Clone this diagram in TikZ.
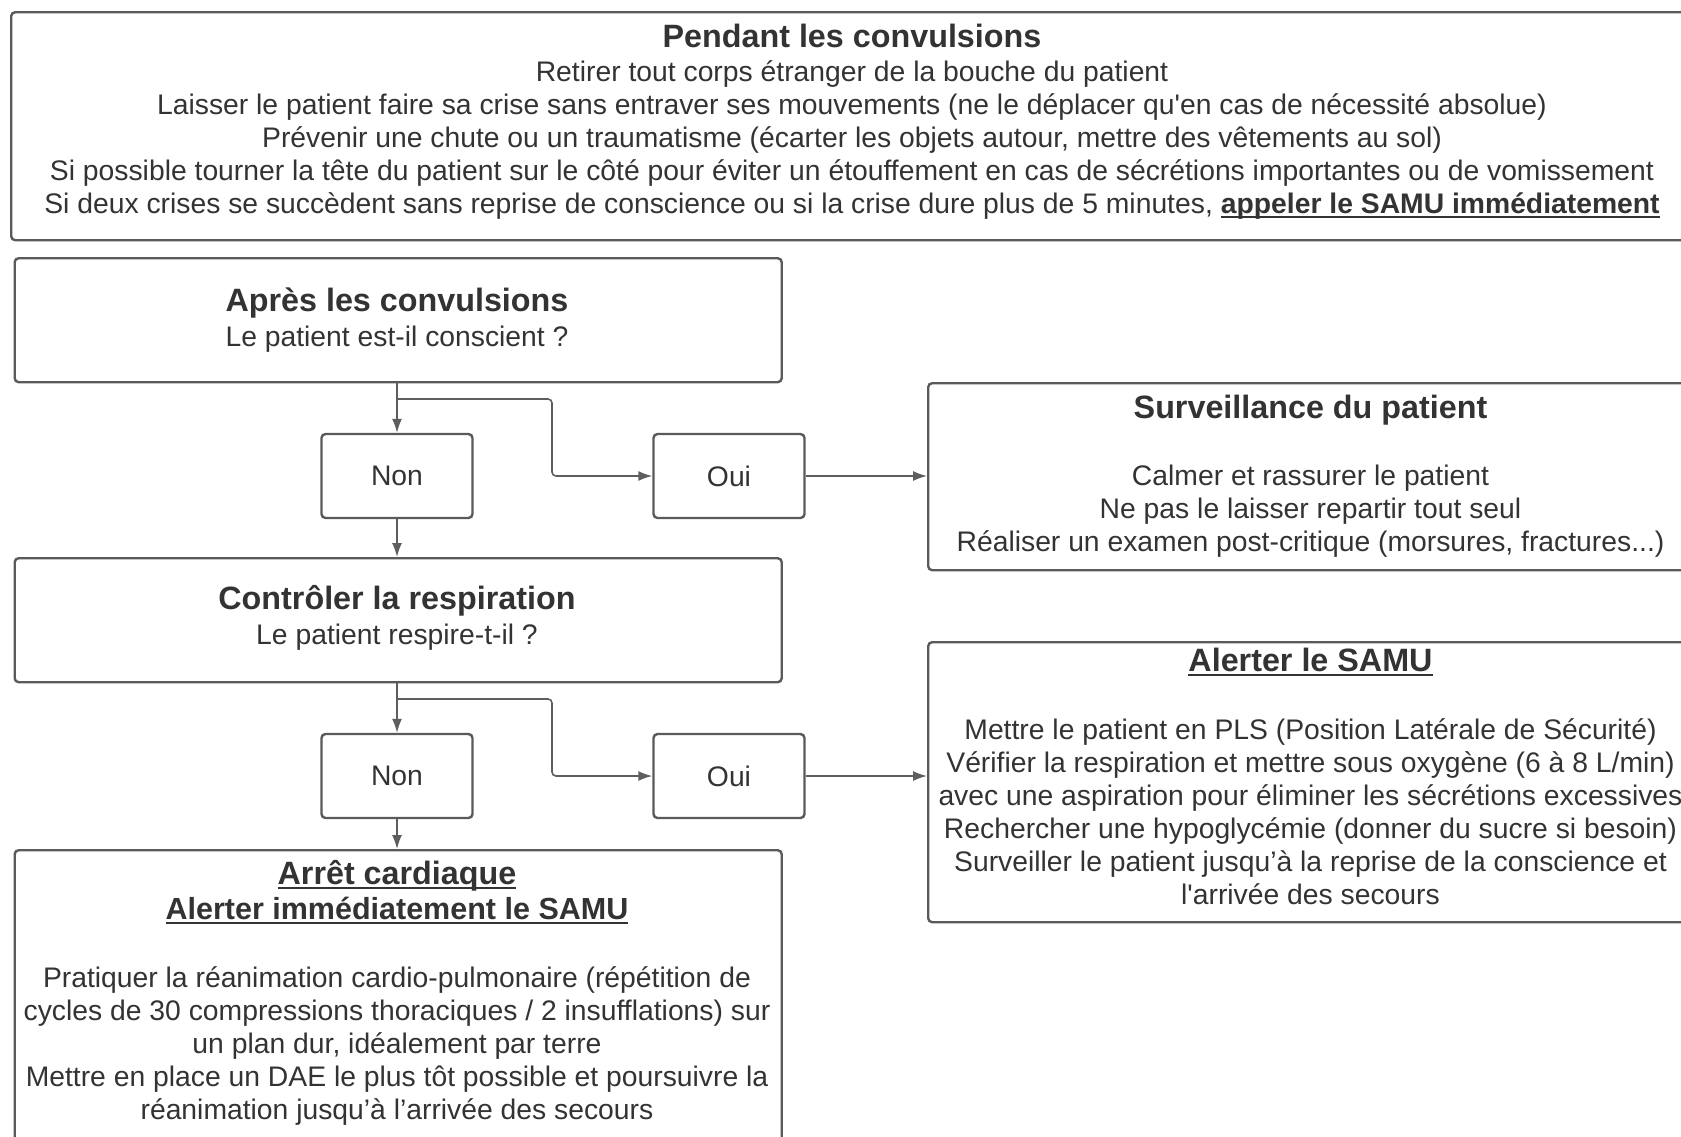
\documentclass[tikz,border=0pt]{standalone}
\usepackage{fontspec}
\setmainfont{Liberation Sans}[Ligatures=TeXOff]
\usetikzlibrary{arrows.meta}
\definecolor{txt}{HTML}{333333}
\definecolor{brd}{HTML}{5A5A5A}
\definecolor{lnk}{HTML}{5E5E5E}
\newcommand\bodyf{\fontsize{28.3}{33}\selectfont}
\newcommand\titlef{\fontsize{32.3}{36}\selectfont\bfseries}
\newcommand\subtitlef{\fontsize{30.5}{36}\selectfont\bfseries}
\newcommand\myul[1]{\leavevmode\setbox0=\hbox{#1}\rlap{\rule[-4.5pt]{\wd0}{2pt}}\box0}
\begin{document}
\begin{tikzpicture}[x=1pt,y=-1pt,
  box/.style={draw=brd, line width=2.4pt, rounded corners=4pt, anchor=north west, inner sep=0pt},
  choice/.style={draw=brd, line width=2.4pt, rounded corners=4pt, minimum width=151pt, minimum height=84pt, inner sep=0pt, text=txt, font=\bodyf},
  bodyline/.style={text=txt, font=\bodyf, anchor=base, inner sep=0pt},
  titleline/.style={text=txt, font=\titlef, anchor=base, inner sep=0pt},
  arr/.style={draw=lnk, line width=1.6pt, -{Latex[length=14pt,width=10pt]}},
  branch/.style={arr, rounded corners=4pt}]
\useasboundingbox (0,0) rectangle (1681,1136);
\fill[white] (0,0) rectangle (1681,1136);
\clip (0,0) rectangle (1681,1136);

% ---------- boxes ----------
\node[box, minimum width=1684pt, minimum height=228pt] (pendant) at (10,11) {};
\node[box, minimum width=767pt, minimum height=124pt] (apres) at (13.5,257) {};
\node[box, minimum width=767pt, minimum height=124pt] (controle) at (13.5,557) {};
\node[box, minimum width=767pt, minimum height=330pt] (arret) at (13.5,849) {};
\node[box, minimum width=767pt, minimum height=187pt] (surv) at (927,382) {};
\node[box, minimum width=767pt, minimum height=280pt] (alerte) at (927,641) {};

\node[choice] (non1) at (397,476) {Non};
\node[choice] (oui1) at (729,476) {Oui};
\node[choice] (non2) at (397,776) {Non};
\node[choice] (oui2) at (729,776) {Oui};

% ---------- texts ----------
\node[titleline] (pendantT) at (852,47) {Pendant les convulsions};
\foreach \t [count=\i] in {
  {Retirer tout corps étranger de la bouche du patient},
  {Laisser le patient faire sa crise sans entraver ses mouvements (ne le déplacer qu'en cas de nécessité absolue)},
  {Prévenir une chute ou un traumatisme (écarter les objets autour, mettre des vêtements au sol)},
  {Si possible tourner la tête du patient sur le côté pour éviter un étouffement en cas de sécrétions importantes ou de vomissement},
  {Si deux crises se succèdent sans reprise de conscience ou si la crise dure plus de 5 minutes, \myul{\bfseries appeler le SAMU immédiatement}}}
  \node[bodyline] (pendantL\i) at (852,{81+33*(\i-1)}) {\t};

\node[titleline] (apresT) at (397,311) {Après les convulsions};
\node[bodyline] (apresL) at (397,346) {Le patient est-il conscient ?};

\node[titleline] (controleT) at (397,609) {Contrôler la respiration};
\node[bodyline] (controleL) at (397,644) {Le patient respire-t-il ?};

\node[titleline] (survT) at (1310.5,418) {Surveillance du patient};
\node[bodyline] (survL1) at (1310.5,485.5) {Calmer et rassurer le patient};
\node[bodyline] (survL2) at (1310.5,518.5) {Ne pas le laisser repartir tout seul};
\node[bodyline] (survL3) at (1310.5,551.5) {Réaliser un examen post-critique (morsures, fractures...)};

\node[titleline] (alerteT) at (1310.5,671) {\myul{Alerter le SAMU}};
\foreach \t [count=\i] in {
  {Mettre le patient en PLS (Position Latérale de Sécurité)},
  {Vérifier la respiration et mettre sous oxygène (6 à 8 L/min)},
  {avec une aspiration pour éliminer les sécrétions excessives},
  {Rechercher une hypoglycémie (donner du sucre si besoin)},
  {Surveiller le patient jusqu’à la reprise de la conscience et},
  {l'arrivée des secours}}
  \node[bodyline] (alerteL\i) at (1310.5,{739+33*(\i-1)}) {\t};

\node[titleline] (arretT) at (397,884) {\myul{Arrêt cardiaque}};
\node[titleline, font=\subtitlef] (arretT2) at (397,919) {\myul{Alerter immédiatement le SAMU}};
\foreach \t [count=\i] in {
  {Pratiquer la réanimation cardio-pulmonaire (répétition de},
  {cycles de 30 compressions thoraciques / 2 insufflations) sur},
  {un plan dur, idéalement par terre},
  {Mettre en place un DAE le plus tôt possible et poursuivre la},
  {réanimation jusqu’à l’arrivée des secours}}
  \node[bodyline] (arretL\i) at (397,{987.5+33*(\i-1)}) {\t};

% ---------- connectors ----------
\coordinate (b1) at (397,399);
\coordinate (b2) at (397,699);
\draw[arr] (apres.south -| non1.north) -- (non1.north);
\draw[branch] (b1) -- ++(155,0) |- (oui1.west);
\draw[arr] (oui1.east) -- (surv.west |- oui1.east);
\draw[arr] (non1.south) -- (controle.north -| non1.south);
\draw[arr] (controle.south -| non2.north) -- (non2.north);
\draw[branch] (b2) -- ++(155,0) |- (oui2.west);
\draw[arr] (oui2.east) -- (alerte.west |- oui2.east);
\draw[arr] (non2.south) -- (arret.north -| non2.south);
\end{tikzpicture}
\end{document}
